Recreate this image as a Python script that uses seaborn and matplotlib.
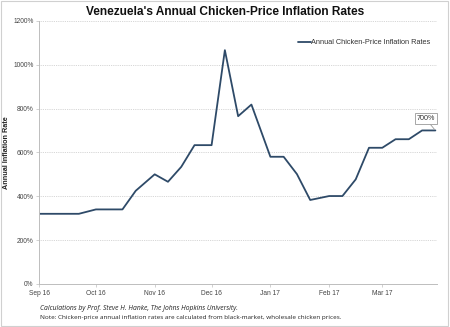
import matplotlib
matplotlib.use("Agg")
import matplotlib.pyplot as plt
import matplotlib.dates as mdates
import seaborn as sns
import pandas as pd
from matplotlib.patches import Rectangle

dates = [
    "2016-09-01", "2016-09-08", "2016-09-15", "2016-09-22",
    "2016-10-01", "2016-10-08", "2016-10-15", "2016-10-22",
    "2016-11-01", "2016-11-08", "2016-11-15", "2016-11-22",
    "2016-12-01", "2016-12-08", "2016-12-15", "2016-12-22",
    "2017-01-01", "2017-01-08", "2017-01-15", "2017-01-22",
    "2017-02-01", "2017-02-08", "2017-02-15", "2017-02-22",
    "2017-03-01", "2017-03-08", "2017-03-15", "2017-03-22", "2017-03-29",
]
inflation = [
    320, 320, 320, 320,
    340, 340, 340, 425,
    500, 466, 534, 633,
    633, 1066, 765, 818,
    580, 580, 501, 383,
    401, 401, 477, 621,
    621, 660, 660, 700, 700,
]
series_name = "Annual Chicken-Price Inflation Rates"
y_ticks = [0, 200, 400, 600, 800, 1000, 1200]

df = pd.DataFrame({"date": pd.to_datetime(dates), "rate": inflation})

sns.set_theme(style="white")
plt.rcParams["font.family"] = ["Liberation Sans", "DejaVu Sans"]

fig = plt.figure(figsize=(4.5, 3.27), dpi=100)
ax = fig.add_axes([0.0867, 0.1315, 0.885, 0.805])

line_color = "#2e4a68"
sns.lineplot(data=df, x="date", y="rate", ax=ax, color=line_color,
             linewidth=1.3, label=series_name)

ax.set_xlim(pd.Timestamp("2016-09-01"), pd.Timestamp("2017-03-30"))
ax.set_ylim(0, 1200)
ax.set_yticks(y_ticks)
ax.set_yticklabels([f"{v}%" for v in y_ticks])
ax.xaxis.set_major_locator(mdates.MonthLocator())
ax.xaxis.set_major_formatter(mdates.DateFormatter("%b %y"))

ax.grid(axis="y", linestyle=(0, (1, 1.2)), color="#c8c8c8", linewidth=0.6)
for side in ["top", "right"]:
    ax.spines[side].set_visible(False)
for side in ["left", "bottom"]:
    ax.spines[side].set_color("#bdbdbd")
    ax.spines[side].set_linewidth(0.7)

ax.tick_params(axis="both", labelsize=4.8, colors="#444444", length=2,
               width=0.5, pad=2, direction="out", bottom=True, left=True)
ax.tick_params(axis="both", color="#bdbdbd")

ax.set_xlabel("")
ax.set_ylabel("Annual Inflation Rate", fontsize=5.2, fontweight="bold",
              color="#222222")
ax.yaxis.set_label_coords(-0.072, 0.5)

leg = ax.legend(loc="upper right", bbox_to_anchor=(1.0, 0.955), frameon=False,
                fontsize=5.3, handlelength=1.7, handletextpad=0.1,
                labelcolor="#333333")

fig.text(0.5, 0.963, "Venezuela's Annual Chicken-Price Inflation Rates",
         ha="center", va="center", fontsize=8.6, fontweight="bold",
         color="#111111")

# callout on the last value
last_date = df["date"].iloc[-1]
last_val = df["rate"].iloc[-1]
ax.annotate(f"{last_val}%", xy=(last_date, last_val), xytext=(-7, 8.5),
            textcoords="offset points", ha="center", va="center",
            fontsize=5.2, color="#333333",
            bbox=dict(boxstyle="square,pad=0.25", fc="white", ec="#999999", lw=0.6),
            arrowprops=dict(arrowstyle="-", color="#999999", lw=0.6,
                            shrinkA=0, shrinkB=1))

fig.text(0.09, 0.058,
         "Calculations by Prof. Steve H. Hanke, The Johns Hopkins University.",
         ha="left", va="center", fontsize=4.9, style="italic",
         family=["Open Sans", "DejaVu Sans"], color="#222222")
fig.text(0.09, 0.028,
         "Note: Chicken-price annual inflation rates are calculated from black-market, wholesale chicken prices.",
         ha="left", va="center", fontsize=4.6,
         family=["Open Sans", "DejaVu Sans"], color="#222222")

# light frame around the whole figure
fig.patches.append(Rectangle((0.002, 0.003), 0.994, 0.994, transform=fig.transFigure,
                             fill=False, edgecolor="#d0d0d0", linewidth=0.8))

fig.savefig("out.png", dpi=100)
